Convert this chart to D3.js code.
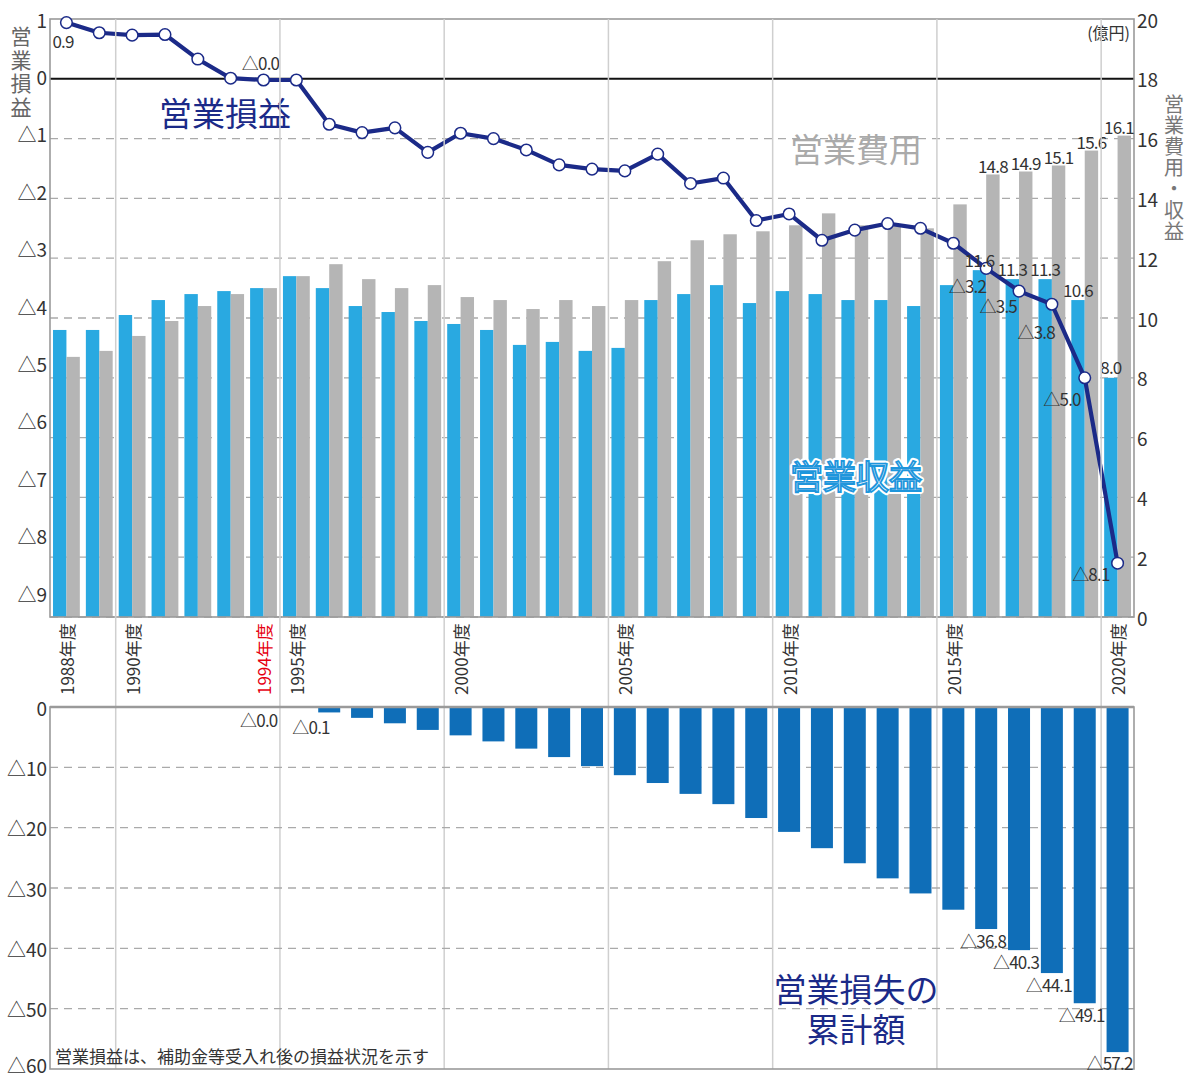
<!DOCTYPE html>
<html><head><meta charset="utf-8">
<script src="https://cdn.jsdelivr.net/npm/d3@7/dist/d3.min.js"></script>
<style>
html,body{margin:0;padding:0;background:#fff;}
svg text{font-family:"Noto Sans CJK JP","Noto Sans",sans-serif;}
</style></head>
<body>
<svg id="c" width="1192" height="1076"></svg>
<script>
// ---------- DATA ----------
const years = [1988,1989,1990,1991,1992,1993,1994,1995,1996,1997,1998,1999,2000,2001,2002,2003,2004,2005,2006,2007,2008,2009,2010,2011,2012,2013,2014,2015,2016,2017,2018,2019,2020];
const revenue = [9.6,9.6,10.1,10.6,10.8,10.9,11.0,11.4,11.0,10.4,10.2,9.9,9.8,9.6,9.1,9.2,8.9,9.0,10.6,10.8,11.1,10.5,10.9,10.8,10.6,10.6,10.4,11.1,11.6,11.3,11.3,10.6,8.0];
const expense = [8.7,8.9,9.4,9.9,10.4,10.8,11.0,11.4,11.8,11.3,11.0,11.1,10.7,10.6,10.3,10.6,10.4,10.6,11.9,12.6,12.8,12.9,13.1,13.5,13.1,13.1,13.0,13.8,14.8,14.9,15.1,15.6,16.1];
const profit = [0.94,0.77,0.73,0.74,0.33,0.01,-0.02,-0.02,-0.76,-0.90,-0.82,-1.23,-0.91,-1.00,-1.19,-1.44,-1.51,-1.54,-1.26,-1.75,-1.66,-2.37,-2.26,-2.70,-2.53,-2.42,-2.50,-2.75,-3.17,-3.55,-3.77,-5.0,-8.1];
const cumulative = [null,null,null,null,null,null,-0.03,-0.06,-0.9,-1.8,-2.7,-3.8,-4.7,-5.7,-6.9,-8.3,-9.8,-11.3,-12.6,-14.4,-16.1,-18.4,-20.7,-23.4,-25.9,-28.4,-30.9,-33.6,-36.8,-40.3,-44.1,-49.1,-57.2];

const leftTicks = [1,0,-1,-2,-3,-4,-5,-6,-7,-8,-9];
const leftTickLabels = ["1","0","△1","△2","△3","△4","△5","△6","△7","△8","△9"];
const rightTicks = [20,18,16,14,12,10,8,6,4,2,0];
const bottomTicks = [0,-10,-20,-30,-40,-50,-60];
const bottomTickLabels = ["0","△10","△20","△30","△40","△50","△60"];
const xLabelYears = [1988,1990,1994,1995,2000,2005,2010,2015,2020];
const gridYears = [1990,1995,2000,2005,2010,2015,2020];

// labels on marks (index -> text)
const profitLabels = [[0,"0.9"],[6,"△0.0"],[28,"△3.2"],[29,"△3.5"],[30,"△3.8"],[31,"△5.0"],[32,"△8.1"]];
const expenseLabels = [[28,"14.8"],[29,"14.9"],[30,"15.1"],[31,"15.6"],[32,"16.1"]];
const revenueLabels = [[28,"11.6"],[29,"11.3"],[30,"11.3"],[31,"10.6"],[32,"8.0"]];
const cumLabels = [[6,"△0.0"],[7,"△0.1"],[28,"△36.8"],[29,"△40.3"],[30,"△44.1"],[31,"△49.1"],[32,"△57.2"]];

// ---------- LAYOUT / STYLE ----------
const L = 50, R = 1134;
const topY0 = 19, topY1 = 617;
const botY0 = 707, botY1 = 1069;
const C = {rev:"#29a9e1", exp:"#b5b5b5", line:"#1b2a88", cum:"#0f6eb8", grid:"#aaa", vgrid:"#cfcfcf", border:"#9a9a9a", text:"#333"};
const numFont = {size:17, ls:-0.8};
// label offsets (dx, dy, anchor)
const profitOff = {0:[-14,18,"start"],6:[-3,-17,"middle"],28:[0,17,"end"],29:[-2,14,"end"],30:[3,27,"end"],31:[-4,21,"end"],32:[-8,10,"end"]};
const cumOff = {6:[3,12,"end"],7:[-15,19,"start"],28:[9,11,"end"],29:[9,11,"end"],30:[9,11,"end"],31:[9,11,"end"],32:[4,10,"end"]};

const svg = d3.select("#c");
const x = d3.scaleBand().domain(years).range([L,R]).paddingInner(0).paddingOuter(0);
const xs = d3.scaleBand().domain(["rev","exp"]).range([0,x.bandwidth()]).paddingInner(0).paddingOuter(0.225);
const yL = d3.scaleLinear().domain([-9,1]).range([topY1,topY0]);
const yR = d3.scaleLinear().domain([0,20]).range([topY1,topY0]);
const yLabel = d3.scaleLinear().domain([-9,1]).range([593,19]); // tick label placement as in original
const yB = d3.scaleLinear().domain([-60,0]).range([botY1,botY0]);
const cx = i => x(years[i]) + x.bandwidth()/2;

// ---------- TOP CHART ----------
const gTop = svg.append("g");
gTop.selectAll("line.hg").data(leftTicks.filter(d=>d<0)).join("line")
  .attr("x1",L).attr("x2",R).attr("y1",d=>yL(d)).attr("y2",d=>yL(d))
  .attr("stroke",C.grid).attr("stroke-width",1.3).attr("stroke-dasharray","8,6");
svg.selectAll("line.vg").data(gridYears).join("line")
  .attr("x1",d=>x(d)).attr("x2",d=>x(d)).attr("y1",topY0).attr("y2",botY1)
  .attr("stroke",C.vgrid).attr("stroke-width",1.5);
const bars = gTop.append("g");
bars.selectAll("rect.rev").data(revenue).join("rect")
  .attr("x",(d,i)=>x(years[i])+xs("rev")).attr("width",xs.bandwidth())
  .attr("y",d=>yR(d)).attr("height",d=>yR(0)-yR(d)).attr("fill",C.rev);
bars.selectAll("rect.exp").data(expense).join("rect")
  .attr("x",(d,i)=>x(years[i])+xs("exp")).attr("width",xs.bandwidth())
  .attr("y",d=>yR(d)).attr("height",d=>yR(0)-yR(d)).attr("fill",C.exp);
gTop.append("line").attr("x1",L).attr("x2",R).attr("y1",yL(0)).attr("y2",yL(0))
  .attr("stroke","#111").attr("stroke-width",2);
gTop.append("rect").attr("x",L).attr("y",topY0).attr("width",R-L).attr("height",topY1-topY0)
  .attr("fill","none").attr("stroke",C.border).attr("stroke-width",1.6);

gTop.selectAll("text.lt").data(leftTicks).join("text")
  .attr("x",47).attr("y",d=>yLabel(d)).attr("text-anchor","end").attr("dominant-baseline","central")
  .attr("font-size",19).attr("fill",C.text).text((d,i)=>leftTickLabels[i]);
gTop.selectAll("text.rt").data(rightTicks).join("text")
  .attr("x",1137).attr("y",d=>yR(d)).attr("text-anchor","start").attr("dominant-baseline","central")
  .attr("font-size",19).attr("fill",C.text).text(d=>d);

const line = d3.line().x((d,i)=>cx(i)).y(d=>yL(d));
gTop.append("path").datum(profit).attr("d",line).attr("fill","none")
  .attr("stroke",C.line).attr("stroke-width",4.2).attr("stroke-linejoin","round");
gTop.selectAll("circle.pt").data(profit).join("circle")
  .attr("cx",(d,i)=>cx(i)).attr("cy",d=>yL(d)).attr("r",5.8)
  .attr("fill","#fff").attr("stroke",C.line).attr("stroke-width",1.5);

gTop.selectAll("text.pl").data(profitLabels).join("text")
  .attr("x",d=>cx(d[0])+profitOff[d[0]][0]).attr("y",d=>yL(profit[d[0]])+profitOff[d[0]][1])
  .attr("text-anchor",d=>profitOff[d[0]][2]).attr("dominant-baseline","central")
  .attr("font-size",numFont.size).attr("letter-spacing",numFont.ls).attr("fill",C.text).text(d=>d[1]);
gTop.selectAll("text.el").data(expenseLabels).join("text")
  .attr("x",d=>Math.min(x(years[d[0]])+xs("exp")+xs.bandwidth()/2, R-15))
  .attr("y",d=>yR(expense[d[0]])-9).attr("text-anchor","middle").attr("dominant-baseline","central")
  .attr("font-size",numFont.size).attr("letter-spacing",numFont.ls).attr("fill",C.text).text(d=>d[1]);
gTop.selectAll("text.rl").data(revenueLabels).join("text")
  .attr("x",d=>x(years[d[0]])+xs("rev")+xs.bandwidth()/2)
  .attr("y",d=>yR(revenue[d[0]])-11).attr("text-anchor","middle").attr("dominant-baseline","central")
  .attr("font-size",numFont.size).attr("letter-spacing",numFont.ls).attr("fill",C.text).text(d=>d[1]);

gTop.append("text").attr("x",225).attr("y",112).attr("text-anchor","middle").attr("dominant-baseline","central")
  .attr("font-size",33).attr("fill",C.line).text("営業損益");
gTop.append("text").attr("x",856).attr("y",148).attr("text-anchor","middle").attr("dominant-baseline","central")
  .attr("font-size",33).attr("fill","#aaaaaa").text("営業費用");
gTop.append("text").attr("x",856).attr("y",475).attr("text-anchor","middle").attr("dominant-baseline","central")
  .attr("font-size",33).attr("fill","none").attr("stroke","#fff").attr("stroke-width",6).attr("stroke-linejoin","round").text("営業収益");
gTop.append("text").attr("x",856).attr("y",475).attr("text-anchor","middle").attr("dominant-baseline","central")
  .attr("font-size",33).attr("fill","#fff").attr("stroke","#1e96dc").attr("stroke-width",1.8).text("営業収益");
gTop.append("text").attr("x",1130).attr("y",32).attr("text-anchor","end").attr("dominant-baseline","central")
  .attr("font-size",16).attr("fill",C.text).text("(億円)");

// vertical axis titles (single text, vertical writing mode)
svg.append("text").attr("x",21).attr("y",26)
  .style("writing-mode","vertical-rl").style("text-orientation","upright")
  .attr("font-size",21).attr("letter-spacing",2.5).attr("fill","#666").text("営業損益");
svg.append("text").attr("x",1174).attr("y",94)
  .style("writing-mode","vertical-rl").style("text-orientation","upright")
  .attr("font-size",20).attr("letter-spacing",1.2).attr("fill","#777").text("営業費用・収益");

svg.selectAll("text.xl").data(xLabelYears).join("text")
  .attr("transform",d=>`translate(${x(d)+x.bandwidth()/2},695) rotate(-90)`)
  .attr("text-anchor","start").attr("dominant-baseline","central")
  .attr("font-size",17).attr("fill",d=>d===1994?"#e60012":C.text).text(d=>d+"年度");

// ---------- BOTTOM CHART ----------
const gBot = svg.append("g");
gBot.selectAll("line.bg").data(bottomTicks.filter(d=>d<0 && d>-60)).join("line")
  .attr("x1",L).attr("x2",R).attr("y1",d=>yB(d)).attr("y2",d=>yB(d))
  .attr("stroke",C.grid).attr("stroke-width",1.3).attr("stroke-dasharray","8,6");
const cw = 22;
const cumIdx = cumulative.map((d,i)=>i).filter(i=>cumulative[i]!==null);
gBot.selectAll("rect.cum").data(cumIdx).join("rect")
  .attr("x",i=>cx(i)-cw/2).attr("width",cw)
  .attr("y",yB(0)).attr("height",i=>Math.max(0.6,yB(cumulative[i])-yB(0)))
  .attr("fill",C.cum);
gBot.append("rect").attr("x",L).attr("y",botY0).attr("width",R-L).attr("height",botY1-botY0)
  .attr("fill","none").attr("stroke",C.border).attr("stroke-width",1.6);
gBot.append("line").attr("x1",L).attr("x2",R).attr("y1",botY0).attr("y2",botY0)
  .attr("stroke",C.border).attr("stroke-width",2.4);
gBot.selectAll("text.bt").data(bottomTicks).join("text")
  .attr("x",47).attr("y",d=>Math.min(yB(d),1064)).attr("text-anchor","end").attr("dominant-baseline","central")
  .attr("font-size",19).attr("fill",C.text).text((d,i)=>bottomTickLabels[i]);
gBot.selectAll("text.cl").data(cumLabels).join("text")
  .attr("x",d=>cx(d[0])+cw/2+cumOff[d[0]][0]).attr("y",d=>yB(cumulative[d[0]])+cumOff[d[0]][1])
  .attr("text-anchor",d=>cumOff[d[0]][2]).attr("dominant-baseline","central")
  .attr("font-size",numFont.size).attr("letter-spacing",numFont.ls).attr("fill",C.text).text(d=>d[1]);
const cumTitle = gBot.append("text").attr("text-anchor","middle")
  .attr("font-size",33).attr("fill",C.line);
cumTitle.append("tspan").attr("x",856).attr("y",1002).text("営業損失の");
cumTitle.append("tspan").attr("x",856).attr("y",1042).text("累計額");
gBot.append("text").attr("x",55).attr("y",1055).attr("text-anchor","start").attr("dominant-baseline","central")
  .attr("font-size",17).attr("fill",C.text).text("営業損益は、補助金等受入れ後の損益状況を示す");
</script>
</body></html>
